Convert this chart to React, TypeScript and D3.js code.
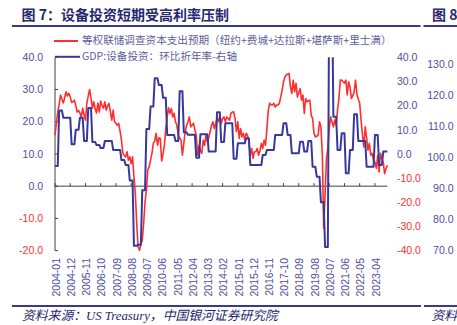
import React from 'react';
import * as d3 from 'd3';

// ---- Data ----
const startYear = 2004;
// 等权联储调查资本支出预期 (monthly, left axis), 2004-01 .. 2024-01
const capexExpect: number[] = [
  15.8, 19.5, 23, 25.5, 28.3, 27, 25.8, 27.5, 29.3, 28, 28.8, 27.7,
  26, 26.2, 26.7, 25, 23, 23.5, 22.7, 21.5, 24.2, 22, 20.5, 25.8,
  28, 30, 27.3, 24.2, 26.2, 24, 22.7, 25.8, 23, 26.4, 25, 24.2,
  26.2, 23.6, 25, 25.7, 23, 20.5, 23.6, 20, 19.5, 18.9, 19.5, 17,
  14.3, 10.2, 9.5, 9.1, 10.7, 8.1, 9.1, 7, 9.1, 2.9, -2.3, -11.6,
  -18.9, -19.9, -18, -16.8, -11.6, -5, -1.2, 5, 6, 8.1, 10.2, 13.3,
  14, 16.4, 12.7, 15, 14.9, 7.8, 10, 12.7, 17.9, 21.5, 24.3, 22.6,
  24.1, 21.5, 22.6, 20, 18.9, 15.8, 15, 14.3, 9.6, 13.3, 16.9, 18.9,
  20, 21.5, 18.4, 19, 19.5, 17.4, 15.8, 9.6, 12.7, 11, 10.2, 14.3,
  12.7, 15.8, 13.8, 15, 16.9, 18.9, 20, 17.9, 19.5, 21, 20, 22,
  19.5, 21, 21.5, 20, 21.5, 21, 20.5, 22.6, 23, 23.1, 21, 16.9,
  20, 14.8, 17.9, 15.3, 16.4, 14.3, 16.4, 15.8, 13.8, 9.6, 11.7, 8.6,
  10.7, 10.7, 11.7, 9.6, 11, 13.3, 11.7, 14.3, 12.7, 17.9, 23.6, 25.7,
  25.2, 25.2, 25.7, 24.6, 25.2, 25.2, 25.7, 27.7, 29.8, 32.4, 33.9, 34.5,
  34.8, 35, 30.8, 28.8, 32.9, 29.3, 31.9, 27.7, 29, 30.3, 26.7, 28.3,
  22.6, 27.2, 26.2, 26.5, 26.7, 22, 21, 16.4, 15.3, 15.5, 15.8, 20,
  18.4, 10, -13.1, -2.8, 8.6, 11.7, 17.9, 21.5, 20, 18.4, 20.5, 18.9,
  23.6, 27.2, 32.9, 32.9, 32.4, 32, 32.9, 28.3, 32.4, 30.8, 27.2, 28,
  29.3, 32.9, 28.5, 27, 25.7, 20.5, 15.8, 12.2, 18.4, 15, 11.2, 13.3,
  9.6, 10.2, 8, 7.5, 5.5, 9.6, 4.4, 10.2, 8.5, 7.5, 3.9, 5.5,
  6.5,
];
// GDP:设备投资：环比折年率 (quarterly, right axis), 2004Q1 .. 2024Q1
const gdpEquipQ: number[] = [
  -5, 18, 15, 15,
  4, 10, 15, 5.4,
  19, 5, 3.7, 2.5,
  5.4, 5.4, 1.7, 1.7,
  -2.5, -4.5, -11, -38,
  -37.5, -15, 10.3, 19.6,
  31.3, 28.5, 23.3, 7.9,
  7.9, 5.4, 26, 9,
  8, 8, -1.5, 8.2,
  8.2, 1, 1, 17.3,
  5, 12.7, 12.7, -2,
  4.4, 4.4, 6.5, -4.5,
  -4.5, -4.5, -0.4, 1.7,
  1.7, 7.9, 7.9, 12.7,
  7.9, 0.3, 0.3, 5.1,
  1, 5.4, -5.3, -9.4,
  -20, -38.5, 70, 15.4,
  1.7, 8.6, -8, 1.7,
  16.4, 5.4, 5.4, -5.3,
  -5.3, 7.9, -4.5, 1,
  1,
];
const leftTicks = [40, 30, 20, 10, 0, -10, -20];
const rightTicks = [40, 30, 20, 10, 0, -10, -20, -30, -40];
const outerTicks = [130, 120, 110, 100, 90, 80, 70];
const labelEvery = 11;
const titleText = '图 7：设备投资短期受高利率压制';
const nextTitle = '图 8';
const legendRed = '等权联储调查资本支出预期（纽约+费城+达拉斯+堪萨斯+里士满）';
const legendBlue = 'GDP:设备投资：环比折年率-右轴';
const sourceText = '资料来源：US Treasury，中国银河证券研究院';
const nextSource = '资料';

const months = capexExpect.map((_, i) => {
  const y = startYear + Math.floor(i / 12);
  const m = (i % 12) + 1;
  return `${y}-${m < 10 ? '0' + m : m}`;
});
const gdpMonthly = months.map((_, i) => gdpEquipQ[Math.floor(i / 3)]);

const RED = '#ff2e2e';
const BLUE = '#38389c';
const BLUE_TXT = '#4d4da0';
const AXIS = '#404040';
const NAVY = '#27276f';
const SANS = "'Liberation Sans', Arial, sans-serif";
const CJK = "'Noto Sans CJK SC', 'Liberation Sans', sans-serif";

export default function App() {
  const x = d3.scalePoint<string>().domain(months).range([55, 387.4]);
  const yL = d3.scaleLinear().domain([-20, 40]).range([250.6, 57.3]);
  const yR = d3.scaleLinear().domain([-40, 40]).range([250.7, 57.3]);
  const yO = d3.scaleLinear().domain([70, 130]).range([250.7, 64]);

  const redLine = d3
    .line<number>()
    .x((_, i) => x(months[i]) as number)
    .y((d) => yL(d));
  const blueLine = d3
    .line<number>()
    .x((_, i) => x(months[i]) as number)
    .y((d) => yR(d));

  const labelIdx = months.map((_, i) => i).filter((i) => i % labelEvery === 0);
  const x0 = x(months[0]) as number;
  const x1 = x(months[months.length - 1]) as number;

  return (
    <svg
      width={457}
      height={325}
      style={{ position: 'fixed', left: 0, top: 0, background: '#fff' }}
    >
      <defs>
        <clipPath id="plot">
          <rect x={40} y={yL(40)} width={360} height={yL(-20) - yL(40) + 2} />
        </clipPath>
      </defs>

      {/* Title */}
      <text x={21.5} y={19.5} fontFamily={CJK} fontWeight={700} fontSize={14} fill={NAVY}>
        {titleText}
      </text>
      <text x={432} y={19.5} fontFamily={CJK} fontWeight={700} fontSize={14} fill={NAVY}>
        {nextTitle}
      </text>
      <line x1={12} x2={420.5} y1={26} y2={26} stroke="#3a3a8c" strokeWidth={2} />
      <line x1={423.5} x2={457} y1={26} y2={26} stroke="#3a3a8c" strokeWidth={2} />

      {/* Legend */}
      <line x1={54} x2={78} y1={41} y2={41} stroke={RED} strokeWidth={2} />
      <text x={82} y={40.5} dy="0.35em" fontFamily={CJK} fontSize={10.6} fill="#5d5d9a">
        {legendRed}
      </text>
      <line x1={55} x2={80} y1={56.8} y2={56.8} stroke={BLUE} strokeWidth={2} />
      <text x={82} y={56} dy="0.35em" fontFamily={CJK} fontSize={10.6} fill="#5d5d9a">
        {legendBlue}
      </text>

      {/* Left axis */}
      <line x1={55} x2={55} y1={yL(40)} y2={yL(-20)} stroke={AXIS} strokeWidth={1} />
      {leftTicks.map((t) => (
        <g key={'l' + t}>
          <line x1={55} x2={58} y1={yL(t)} y2={yL(t)} stroke={AXIS} />
          <text
            x={43}
            y={yL(t)}
            dy="0.35em"
            textAnchor="end"
            fontFamily={SANS}
            fontSize={10.5}
            fill={t < 0 ? RED : BLUE_TXT}
          >
            {t.toFixed(1)}
          </text>
        </g>
      ))}

      {/* Right axes labels */}
      {rightTicks.map((t) => (
        <text
          key={'r' + t}
          x={397}
          y={yR(t)}
          dy="0.35em"
          fontFamily={SANS}
          fontSize={10.5}
          fill={t < 0 ? RED : BLUE_TXT}
        >
          {t.toFixed(1)}
        </text>
      ))}
      {outerTicks.map((t) => (
        <text
          key={'o' + t}
          x={453.5}
          y={yO(t)}
          dy="0.35em"
          textAnchor="end"
          fontFamily={SANS}
          fontSize={10.5}
          fill={BLUE_TXT}
        >
          {t.toFixed(1)}
        </text>
      ))}

      {/* Zero line with ticks */}
      <line x1={x0} x2={x1} y1={yL(0)} y2={yL(0)} stroke={AXIS} strokeWidth={1} />
      {labelIdx.map((i) => (
        <line
          key={'t' + i}
          x1={x(months[i]) as number}
          x2={x(months[i]) as number}
          y1={yL(0) - 3}
          y2={yL(0)}
          stroke={AXIS}
        />
      ))}

      {/* Series */}
      <g clipPath="url(#plot)">
        <path d={redLine(capexExpect) || ''} fill="none" stroke={RED} strokeWidth={1.6} strokeLinejoin="round" />
        <path d={blueLine(gdpMonthly) || ''} fill="none" stroke={BLUE} strokeWidth={2} strokeLinejoin="round" />
      </g>

      {/* X labels */}
      {labelIdx.map((i) => (
        <text
          key={'x' + i}
          transform={`translate(${(x(months[i]) as number) + 1},258) rotate(-90)`}
          dy="0.35em"
          textAnchor="end"
          fontFamily={SANS}
          fontSize={10.5}
          fill={BLUE_TXT}
        >
          {months[i]}
        </text>
      ))}

      {/* Footer */}
      <line x1={12} x2={421} y1={306} y2={306} stroke="#3a3a8c" strokeWidth={2} />
      <line x1={424} x2={457} y1={306} y2={306} stroke="#3a3a8c" strokeWidth={2} />
      <text
        x={22}
        y={320}
        fontFamily="'Liberation Serif', 'Noto Sans CJK SC', serif"
        fontStyle="italic"
        fontSize={12.8}
        fill="#1f1f6e"
      >
        {sourceText}
      </text>
      <text
        x={431.5}
        y={320}
        fontFamily="'Liberation Serif', 'Noto Sans CJK SC', serif"
        fontStyle="italic"
        fontSize={12.8}
        fill="#1f1f6e"
      >
        {nextSource}
      </text>
    </svg>
  );
}
